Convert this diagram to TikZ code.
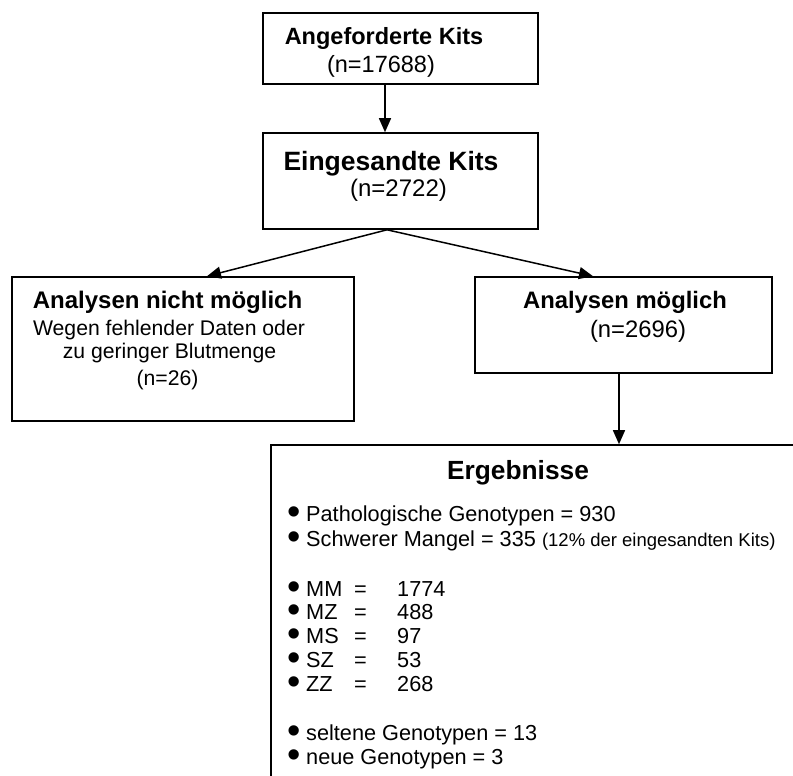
\documentclass[tikz,border=0pt]{standalone}
\usepackage{fontspec}
\setmainfont{Liberation Sans}
\usetikzlibrary{arrows.meta}
\newcommand\setfs[1]{\fontsize{#1bp}{#1bp}\selectfont}
\newcommand\bulletglyph{\makebox[7bp][c]{\setfs{38}•}}
\begin{document}
\begin{tikzpicture}[x=1bp,y=-1bp,
  box/.style={draw, line width=1.6bp, inner sep=0pt},
  txt/.style={inner sep=0pt, anchor=base},
  arr/.style={line width=1.5bp, -{Triangle[length=14bp,width=12bp]}},
  bul/.style={inner sep=0pt, anchor=center},
  eq/.style={inner sep=0pt, anchor=base, font=\setfs{21.7}},
  item/.style={inner sep=0pt, anchor=base west, font=\setfs{21.7}}
]
\useasboundingbox (0,0) rectangle (793,776);
\begin{scope}
\clip (0,0) rectangle (793,776);
% boxes
\node[box, minimum width=275bp, minimum height=71bp] (b1) at (400.5,48.5) {};
\node[box, minimum width=275bp, minimum height=96bp] (b2) at (400.5,181) {};
\node[box, minimum width=342bp, minimum height=144bp] (b3) at (183,349) {};
\node[box, minimum width=297bp, minimum height=96bp] (b4) at (623.5,325) {};
\node[box, minimum width=559bp, minimum height=355bp] (b5) at (550.5,622.5) {};
% connectors
\draw[arr] ([xshift=-15.5bp]b1.south) -- ([xshift=-15.5bp]b2.north);
\draw[arr] ([xshift=-13.5bp]b2.south) -- ([xshift=24bp]b3.north);
\draw[arr] ([xshift=-13.5bp]b2.south) -- ([xshift=-30.5bp]b4.north);
\draw[arr] ([xshift=-4.5bp]b4.south) -- ([xshift=-4.5bp]b4.south |- b5.north);
% box 1 text
\node[txt, font=\bfseries\setfs{23.5}] (t1) at (384,45) {Angeforderte Kits};
\node[txt, font=\setfs{23.5}] (n1) at (381,72.5) {(n=17688)};
% box 2 text
\node[txt, font=\bfseries\setfs{26.5}] (t2) at (391,170) {Eingesandte Kits};
\node[txt, font=\setfs{24}] (n2) at (398.5,196) {(n=2722)};
% box 3 text
\node[txt, font=\bfseries\setfs{24}] (t3) at (167.5,308) {Analysen nicht möglich};
\node[txt, font=\setfs{21.2}] (s3a) at (169,335) {Wegen fehlender Daten oder};
\node[txt, font=\setfs{21.2}] (s3b) at (169.5,358) {zu geringer Blutmenge};
\node[txt, font=\setfs{21.2}] (n3) at (167.5,385) {(n=26)};
% box 4 text
\node[txt, font=\bfseries\setfs{23.8}] (t4) at (625,308) {Analysen möglich};
\node[txt, font=\setfs{23.8}] (n4) at (638,337) {(n=2696)};
% results
\node[txt, font=\bfseries\setfs{26.3}] (t5) at (518,479) {Ergebnisse};
\node[bul] (p1) at (294.5,516) {\bulletglyph};
\node[item] (r1) at (306,521) {Pathologische Genotypen = 930};
\node[bul] (p2) at (294.5,541) {\bulletglyph};
\node[item] (r2) at (306,546) {Schwerer Mangel = 335 {\setfs{18.5}(12\% der eingesandten Kits)}};
\node[bul] (p3) at (294.5,590.5) {\bulletglyph};
\node[item] (r3) at (306,596) {MM};
\node[eq] (e3) at (360.5,596) {=};
\node[item] (v3) at (397,596) {1774};
\node[bul] (p4) at (294.5,613.5) {\bulletglyph};
\node[item] (r4) at (306,619) {MZ};
\node[eq] (e4) at (360.5,619) {=};
\node[item] (v4) at (397,619) {488};
\node[bul] (p5) at (294.5,637.5) {\bulletglyph};
\node[item] (r5) at (306,643) {MS};
\node[eq] (e5) at (360.5,643) {=};
\node[item] (v5) at (397,643) {97};
\node[bul] (p6) at (294.5,661.5) {\bulletglyph};
\node[item] (r6) at (306,667) {SZ};
\node[eq] (e6) at (360.5,667) {=};
\node[item] (v6) at (397,667) {53};
\node[bul] (p7) at (294.5,685.5) {\bulletglyph};
\node[item] (r7) at (306,691) {ZZ};
\node[eq] (e7) at (360.5,691) {=};
\node[item] (v7) at (397,691) {268};
\node[bul] (p8) at (294.5,735) {\bulletglyph};
\node[item] (r8) at (306,740) {seltene Genotypen = 13};
\node[bul] (p9) at (294.5,759) {\bulletglyph};
\node[item] (r9) at (306,764) {neue Genotypen = 3};
\end{scope}
\end{tikzpicture}
\end{document}
